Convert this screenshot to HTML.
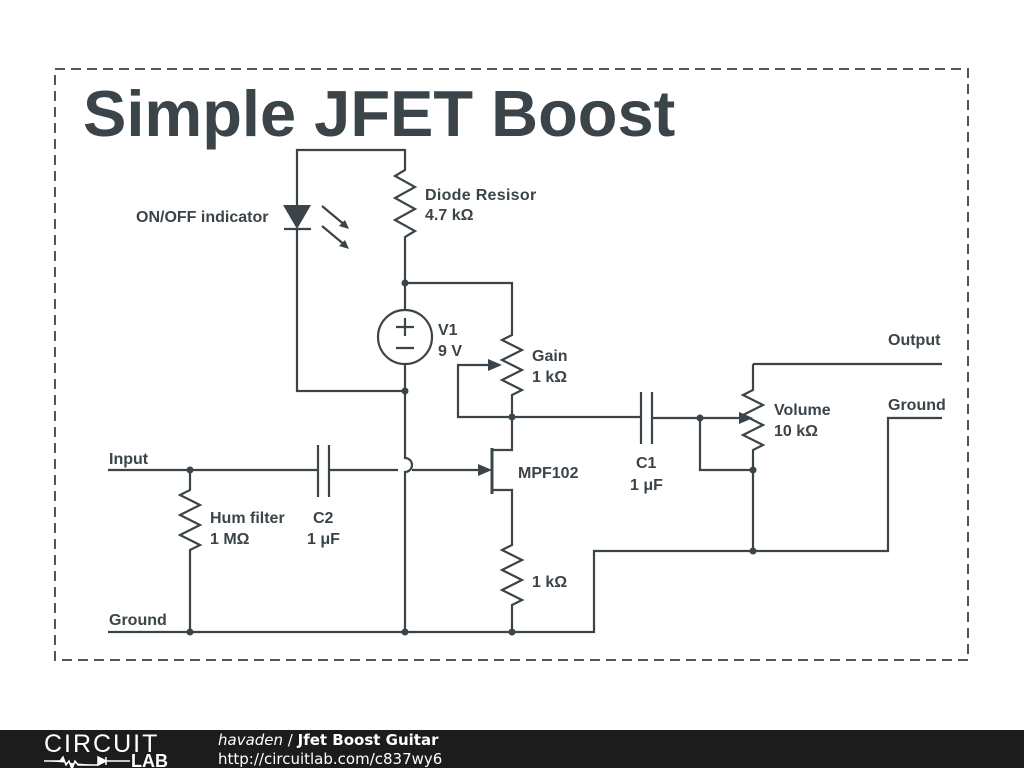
<!DOCTYPE html>
<html><head><meta charset="utf-8"><style>
html,body{margin:0;padding:0;background:#fff;width:1024px;height:768px;overflow:hidden}
svg{display:block}
text{font-family:"Liberation Sans",sans-serif;fill:#3b4449;font-weight:bold;font-size:16px}
</style></head><body>
<svg width="1024" height="768" viewBox="0 0 1024 768">
<rect x="55" y="69" width="913" height="591" fill="none" stroke="#555" stroke-width="2" stroke-dasharray="10,6"/>
<text x="83" y="136" style="font-size:65px">Simple JFET Boost</text>
<g stroke="#3b4449" stroke-width="2.2" fill="none" stroke-linejoin="miter">
<path d="M297 205 V150 H405 V170 l-10 6 20 11 -20 11 20 11 -20 11 20 11 -10 6 V283"/>
<path d="M297 229 V391 H405"/>
<line x1="284" y1="229" x2="311" y2="229"/>
<path d="M405 283 V310 M405 364 V458 a7 7 0 0 1 0 14 V632"/>
<circle cx="405" cy="337" r="27"/>
<path d="M396 327 h18 M405 318 v18 M396 348 h18"/>
<path d="M405 283 H512 V335 l-10 5 20 10 -20 10 20 10 -20 10 20 10 -10 5 V450 H492"/>
<path d="M495 365 H458 V417 H640"/>
<path d="M641 392 V444 M652 392 V444 M652 418 H745"/>
<path d="M700 418 V470 H753"/>
<path d="M753 364 H942 M753 364 V390 l-10 5 20 10 -20 10 20 10 -20 10 20 10 -10 5 V551"/>
<path d="M942 418 H888 V551 H594 V632 H108"/>
<path d="M492 448 V494" stroke-width="3"/>
<path d="M492 490 H512 V545 l-10 5 20 10 -20 10 20 10 -20 10 20 10 -10 5 V632"/>
<path d="M108 470 H318 M318 445 V497 M329 445 V497 M329 470 H398 M412 470 H480"/>
<path d="M190 470 V490 l-10 5 20 10 -20 10 20 10 -20 10 20 10 -10 5 V632"/>
<path d="M322 206 L346 226 M322 226 L346 246"/>
</g>
<g fill="#3b4449">
<polygon points="283,205 311,205 297,229"/>
<polygon points="349,229 339,226 345,220"/>
<polygon points="349,249 339,246 345,240"/>
<polygon points="492,470 478,464 478,476"/>
<polygon points="502,365 488,359 488,371"/>
<polygon points="753,418 739,412 739,424"/>
<circle cx="405" cy="283" r="3.5"/><circle cx="405" cy="391" r="3.5"/>
<circle cx="512" cy="417" r="3.5"/><circle cx="700" cy="418" r="3.5"/>
<circle cx="753" cy="470" r="3.5"/><circle cx="753" cy="551" r="3.5"/>
<circle cx="190" cy="470" r="3.5"/><circle cx="190" cy="632" r="3.5"/>
<circle cx="405" cy="632" r="3.5"/><circle cx="512" cy="632" r="3.5"/>
</g>
<text x="136" y="222">ON/OFF indicator</text>
<text x="425" y="200" letter-spacing="0.3">Diode Resisor</text><text x="425" y="220">4.7 kΩ</text>
<text x="438" y="335">V1</text><text x="438" y="356">9 V</text>
<text x="532" y="361">Gain</text><text x="532" y="382">1 kΩ</text>
<text x="518" y="478">MPF102</text>
<text x="636" y="468">C1</text><text x="630" y="490">1 μF</text>
<text x="774" y="415">Volume</text><text x="774" y="436">10 kΩ</text>
<text x="888" y="345">Output</text><text x="888" y="410">Ground</text>
<text x="109" y="464">Input</text>
<text x="210" y="523">Hum filter</text><text x="210" y="544">1 MΩ</text>
<text x="313" y="523">C2</text><text x="307" y="544">1 μF</text>
<text x="532" y="587">1 kΩ</text>
<text x="109" y="625">Ground</text>
<rect x="0" y="730" width="1024" height="38" fill="#1c1c1c"/>
<text x="44" y="752" style="font-size:25px;fill:#fff;font-weight:normal;letter-spacing:2px">CIRCUIT</text>
<path d="M44 761 H60 l3 -4 3 8 3 -4 3 8 3 -8 3 4 H98 M98 757 v8 l8 -4 z M106 757 v8 M106 761 H130" stroke="#fff" stroke-width="1.5" fill="#fff"/>
<text x="131" y="767" style="font-size:18px;fill:#fff">LAB</text>
<text x="218" y="745" style="font-size:15px;fill:#fff;font-family:'DejaVu Sans',sans-serif"><tspan font-style="italic" font-weight="normal">havaden</tspan><tspan font-weight="normal"> / </tspan>Jfet Boost Guitar</text>
<text x="218" y="764" style="font-size:15px;fill:#fff;font-weight:normal;font-family:'DejaVu Sans',sans-serif">http://circuitlab.com/c837wy6</text>
</svg>
</body></html>
